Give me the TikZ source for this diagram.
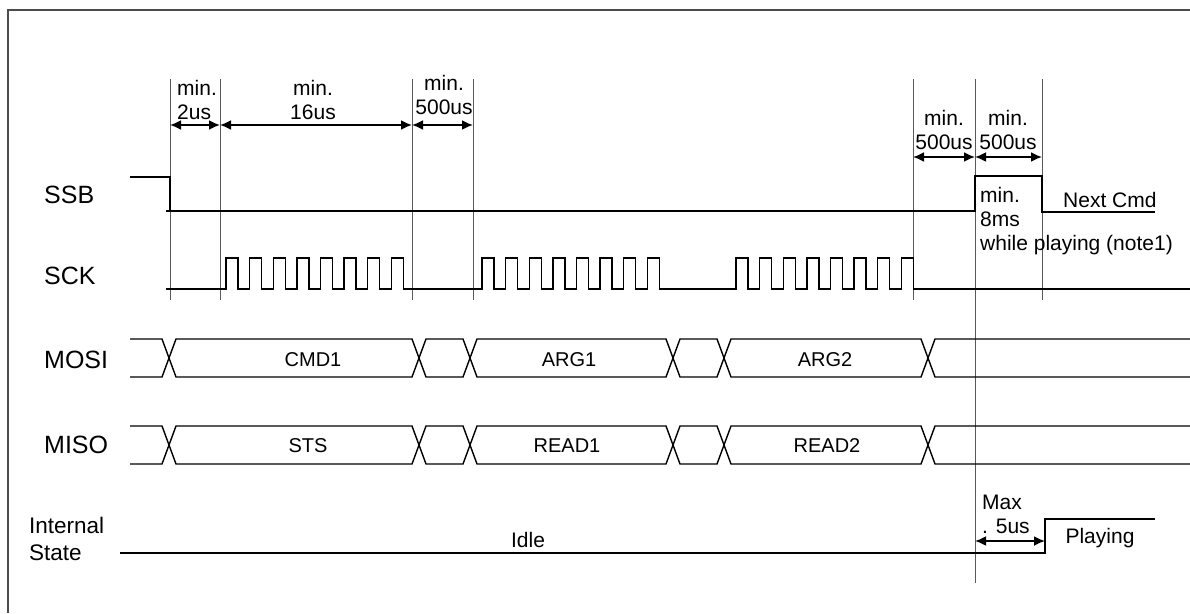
\documentclass[tikz,border=0pt]{standalone}
\usepackage{fontspec}
\setmainfont{Liberation Sans}
\usetikzlibrary{arrows.meta}
\begin{document}
\begin{tikzpicture}[x=1pt,y=-1pt,
  sig/.style={line width=1.4pt, black},
  guide/.style={line width=0.8pt, black!65},
  frame/.style={line width=1.5pt, black!70},
  dim/.style={line width=1.8pt, {Latex[length=11pt,width=10pt]}-{Latex[length=11pt,width=10pt]}},
  lbl/.style={font=\fontsize{21}{24}\selectfont, inner sep=0pt, align=center},
  lblL/.style={font=\fontsize{21}{24}\selectfont, inner sep=0pt, align=left, anchor=west},
  signame/.style={font=\fontsize{25}{28}\selectfont, inner sep=0pt, anchor=west},
  busname/.style={font=\fontsize{20}{24}\selectfont, inner sep=0pt}
  ]
\useasboundingbox (0,0) rectangle (1190,613);
% frame
\coordinate (fTL) at (8,10);
\coordinate (fTR) at (1190,10);
\coordinate (fBL) at (8,613);
\draw[frame] (fTR) -- (fTL) -- (fBL);

% guide lines
\coordinate (g1t) at (170,79);  \coordinate (g1b) at (170,300);
\coordinate (g2t) at (220,79);  \coordinate (g2b) at (220,300);
\coordinate (g3t) at (412,79);  \coordinate (g3b) at (412,300);
\coordinate (g4t) at (473,79);  \coordinate (g4b) at (473,300);
\coordinate (g5t) at (913,79);  \coordinate (g5b) at (913,300);
\coordinate (g6t) at (975,79);  \coordinate (g6b) at (975,583);
\coordinate (g7t) at (1042,79); \coordinate (g7b) at (1042,300);
\foreach \g in {1,...,7} { \draw[guide] (g\g t) -- (g\g b); }

% dimension arrows
\coordinate (d1) at (170,125); \coordinate (d2) at (220,125);
\coordinate (d3) at (412,125); \coordinate (d4) at (473,125);
\coordinate (d5) at (913,157); \coordinate (d6) at (975,157);
\coordinate (d7) at (1042,157);
\draw[dim] (d1) -- (d2);
\draw[dim] (d2) -- (d3);
\draw[dim] (d3) -- (d4);
\draw[dim] (d5) -- (d6);
\draw[dim] (d6) -- (d7);
\coordinate (m1) at (975,541); \coordinate (m2) at (1045,541);
\draw[dim] (m1) -- (m2);

% dimension labels
\node[lblL] (t1) at (177,100) {min.\\2us};
\node[lbl] (t2) at (313,100) {min.\\16us};
\node[lbl] (t3) at (444,95) {min.\\500us};
\node[lbl] (t4) at (944,130) {min.\\500us};
\node[lbl] (t5) at (1008,130) {min.\\500us};
\node[lblL] (t6) at (980,221) {min.\\8ms\\while playing (note1)};
\node[lblL] (t7) at (1063,200) {Next Cmd};
\node[lblL] (t8) at (982,514) {Max\\. 5us};

% signal names
\node[signame] (nSSB) at (44,195) {SSB};
\node[signame] (nSCK) at (44,276) {SCK};
\node[signame] (nMOSI) at (44,360) {MOSI};
\node[signame] (nMISO) at (44,445) {MISO};
\node[font=\fontsize{22.5}{27}\selectfont, inner sep=0pt, align=left, anchor=west] (nIS) at (29,539) {Internal\\State};

% SSB
\draw[sig] (130,177) -- (170,177) -- (170,211) -- (975,211) -- (975,176) -- (1042,176) -- (1042,212) -- (1155,212);
\draw[sig] (166,211) -- (170,211);

% SCK
\draw[sig] (166,289) -- (226,289)
  \foreach \i in {0,...,7} { -- ++(0,-31) -- ++(12,0) -- ++(0,31) -- ++(11.6,0) }
  -- (482,289)
  \foreach \i in {0,...,7} { -- ++(0,-31) -- ++(12,0) -- ++(0,31) -- ++(11.6,0) }
  -- (736,289)
  \foreach \i in {0,...,7} { -- ++(0,-31) -- ++(12,0) -- ++(0,31) -- ++(11.6,0) };
\draw[sig] (913,289) -- (1190,289);

% MOSI bus
\draw[sig] (130,339) -- (162,339) -- (176,377) -- (412,377) -- (426,339) -- (463,339) -- (477,377) -- (666,377) -- (680,339) -- (717,339) -- (731,377) -- (921,377) -- (935,339) -- (1190,339);
\draw[sig] (130,377) -- (162,377) -- (176,339) -- (412,339) -- (426,377) -- (463,377) -- (477,339) -- (666,339) -- (680,377) -- (717,377) -- (731,339) -- (921,339) -- (935,377) -- (1190,377);
% MISO bus
\draw[sig] (130,426) -- (162,426) -- (176,464) -- (412,464) -- (426,426) -- (463,426) -- (477,464) -- (666,464) -- (680,426) -- (717,426) -- (731,464) -- (921,464) -- (935,426) -- (1190,426);
\draw[sig] (130,464) -- (162,464) -- (176,426) -- (412,426) -- (426,464) -- (463,464) -- (477,426) -- (666,426) -- (680,464) -- (717,464) -- (731,426) -- (921,426) -- (935,464) -- (1190,464);

\node[busname] (bCMD) at (313,360) {CMD1};
\node[busname] (bARG1) at (569,360) {ARG1};
\node[busname] (bARG2) at (825,360) {ARG2};
\node[busname] (bSTS) at (308,446) {STS};
\node[busname] (bR1) at (567,446) {READ1};
\node[busname] (bR2) at (827,446) {READ2};

% Internal state
\draw[sig] (120,553) -- (1045,553) -- (1045,519) -- (1155,519);
\node[font=\fontsize{21}{24}\selectfont, inner sep=0pt] (sIdle) at (528,540) {Idle};
\node[lbl] (sPlay) at (1100,538) {Playing};
\end{tikzpicture}
\end{document}
